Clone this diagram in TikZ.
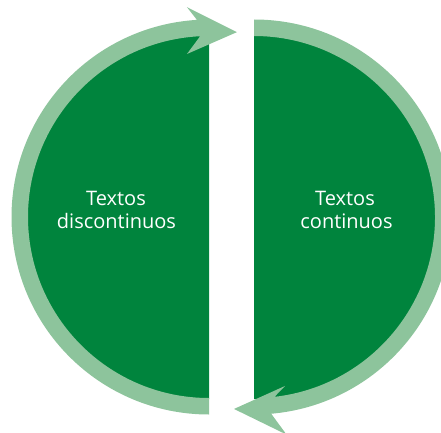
\documentclass[tikz,border=0pt]{standalone}
\usepackage{fontspec}
\setmainfont{Open Sans}
\usetikzlibrary{calc}
\definecolor{dkgreen}{RGB}{0,132,61}
\definecolor{ltgreen}{RGB}{141,196,156}
\begin{document}
\begin{tikzpicture}[x=1pt,y=1pt,
  half/.style={fill=dkgreen},
  ring/.style={fill=ltgreen},
  lbl/.style={text=white, font=\fontsize{20}{23.5}\selectfont, anchor=base, inner sep=0pt}]
\useasboundingbox (0,0) rectangle (441,432);
\clip (0,0) rectangle (441,432);
\coordinate (L) at (209,215);
\coordinate (R) at (254,215);
% dark halves
\fill[half] (L) ++(90:182) arc (90:270:182) -- cycle;
\fill[half] (R) ++(90:182) arc (90:-90:182) -- cycle;
% left ring with arrowhead
\fill[ring] ($(L)+(270:197.5)$) arc (270:93.5:197.5)
  -- ($(L)+(96:211)$) -- ($(L)+(81.4:187)$) -- ($(L)+(97.7:164.5)$)
  -- ($(L)+(92.8:181)$) arc (92.8:270:181) -- cycle;
% right ring with arrowhead
\fill[ring] ($(R)+(90:197.5)$) arc (90:-85:197.5)
  -- ($(R)+(-81.5:220)$) -- ($(R)+(-95.95:193)$) -- ($(R)+(-79.6:171.8)$)
  -- ($(R)+(-83.5:181)$) arc (-83.5:90:181) -- cycle;
% labels
\node[lbl] (lt) at (116,227) {Textos};
\node[lbl] (lb) at (116.5,204) {discontinuos};
\node[lbl] (rt) at (345,227) {Textos};
\node[lbl] (rb) at (346.5,204) {continuos};
\end{tikzpicture}
\end{document}
